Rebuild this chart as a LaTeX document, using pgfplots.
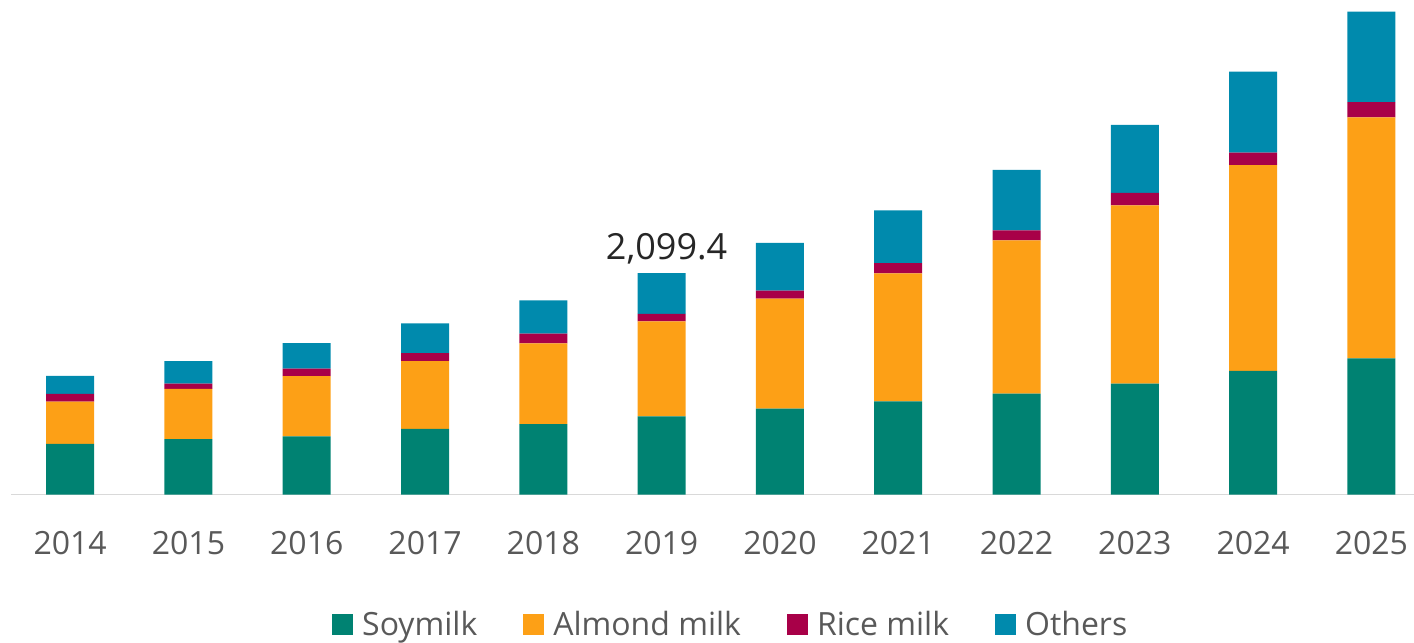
\documentclass[border=0pt]{standalone}
\usepackage{pgfplots}
\pgfplotsset{compat=1.18}
\usepackage{fontspec}
\setmainfont{Open Sans}
\definecolor{soy}{RGB}{0,130,114}
\definecolor{almond}{RGB}{253,160,22}
\definecolor{rice}{RGB}{168,0,72}
\definecolor{others}{RGB}{0,138,173}
\definecolor{txt}{RGB}{89,89,89}
\definecolor{axisgray}{RGB}{217,217,217}
\begin{document}
\begin{tikzpicture}
\begin{axis}[
  at={(0,0)}, anchor=south west,
  scale only axis,
  width=1403bp, height=494.5bp,
  ybar stacked, bar width=48bp,
  xmin=-0.5, xmax=11.36,
  ymin=0, ymax=4687,
  axis x line*=bottom,
  axis y line=none,
  x axis line style={draw=axisgray, line width=1.5bp, -},
  xtick={0,...,11},
  xticklabels={2014,2015,2016,2017,2018,2019,2020,2021,2022,2023,2024,2025},
  major tick length=0pt,
  xticklabel style={font=\fontsize{32bp}{38bp}\selectfont, text=txt, anchor=base, yshift=-60bp},
  legend style={draw=none, fill=none, at={(0.513,-0.262)}, anchor=center,
    font=\fontsize{32bp}{38bp}\selectfont, text=txt,
    /tikz/every odd column/.append style={column sep=7bp},
    /tikz/every even column/.append style={column sep=44bp}},
  legend columns=4,
  legend image code/.code={\fill[#1] (0bp,-10.5bp) rectangle (21bp,10.5bp);},
  clip=false,
]
\addplot[fill=soy, draw=none] coordinates {(0,479) (1,526) (2,552) (3,621) (4,668) (5,741) (6,813) (7,883) (8,955) (9,1050) (10,1171) (11,1291)};
\addlegendentry{Soymilk}
\addplot[fill=almond, draw=none] coordinates {(0,401) (1,474) (2,569) (3,642) (4,765) (5,900) (6,1043) (7,1213) (8,1454) (9,1691) (10,1952) (11,2284)};
\addlegendentry{Almond milk}
\addplot[fill=rice, draw=none] coordinates {(0,73) (1,50) (2,72) (3,76) (4,91) (5,72) (6,76) (7,98) (8,95) (9,119) (10,117) (11,145)};
\addlegendentry{Rice milk}
\addplot[fill=others, draw=none] coordinates {(0,171) (1,215) (2,241) (3,284) (4,317) (5,386.4) (6,452) (7,499) (8,572) (9,644) (10,768) (11,856)};
\addlegendentry{Others}
\node[anchor=base, xshift=5bp, yshift=14bp, inner sep=0pt, text={rgb,255:red,38;green,38;blue,38}, font=\fontsize{36bp}{42bp}\selectfont] at (axis cs:5,2099.4) {2,099.4};
\end{axis}
\pgfresetboundingbox
\path[use as bounding box] (-11bp,-148.5bp) rectangle (1403bp,494.5bp);
\end{tikzpicture}
\end{document}
